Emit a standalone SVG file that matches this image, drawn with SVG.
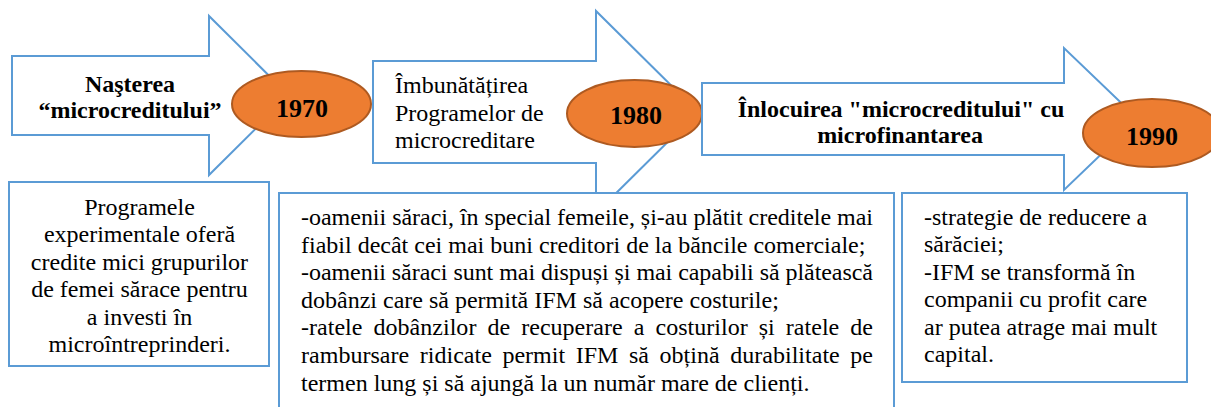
<svg xmlns="http://www.w3.org/2000/svg" width="1211" height="407" viewBox="0 0 1211 407" font-family="'Liberation Serif', 'Times New Roman', Tinos, 'DejaVu Serif', serif">
<style>
.arrow{fill:#ffffff;stroke:#5B9BD5;stroke-width:2;stroke-linejoin:miter}
.box{fill:#ffffff;stroke:#5B9BD5;stroke-width:2}
.year{fill:#ED7D31;stroke:#AE5A21;stroke-width:2}
text{font-family:'Liberation Serif','Times New Roman',Tinos,'DejaVu Serif',serif;font-size:24px;fill:#000000}
.b{font-weight:bold}
.yt{font-weight:bold;font-size:26px;text-anchor:middle}
.c{text-anchor:middle}
</style>
<rect width="1211" height="407" fill="#ffffff"/>
<g id="connectors"/>
<g id="arrow1970">
<path class="arrow" d="M12,56 H209 V16 L289,95.5 L209,175 V135 H12 Z"/>
<text class="b c" x="130" y="92">Naşterea</text>
<text class="b c" x="130" y="118">“microcreditului”</text>
</g>
<g id="year1970">
<ellipse class="year" cx="301.5" cy="104" rx="69.5" ry="33"/>
<text class="yt" x="302" y="117">1970</text>
</g>
<g id="arrow1980">
<path class="arrow" d="M373,61 H596 V11 L698,112 L596,213 V163 H373 Z"/>
<text x="395" y="93">Îmbunătățirea</text>
<text x="395" y="120.5">Programelor de</text>
<text x="395" y="148">microcreditare</text>
</g>
<g id="year1980">
<ellipse class="year" cx="634.5" cy="113.5" rx="67.5" ry="33.5"/>
<text class="yt" x="636" y="124">1980</text>
</g>
<g id="arrow1990">
<path class="arrow" d="M702,83 H1064 V48 L1138,119 L1064,190 V155 H702 Z"/>
<text class="b c" x="901" y="117">Înlocuirea "microcreditului" cu</text>
<text class="b c" x="900" y="143">microfinantarea</text>
</g>
<g id="year1990">
<ellipse class="year" cx="1152" cy="133" rx="69" ry="34"/>
<text class="yt" x="1152" y="145">1990</text>
</g>
<g id="box1970">
<rect class="box" x="9" y="182" width="260" height="184"/>
<text class="c" x="139.5" y="214.5">Programele</text>
<text class="c" x="139.5" y="242">experimentale oferă</text>
<text class="c" x="139.5" y="269.5">credite mici grupurilor</text>
<text class="c" x="139.5" y="297">de femei sărace pentru</text>
<text class="c" x="139.5" y="324.5">a investi în</text>
<text class="c" x="139.5" y="352">microîntreprinderi.</text>
</g>
<g id="box1980">
<rect class="box" x="279" y="193" width="615" height="230"/>
<text x="301" y="225" textLength="572" lengthAdjust="spacing">-oamenii săraci, în special femeile, și-au plătit creditele mai</text>
<text x="301" y="252.6">fiabil decât cei mai buni creditori de la băncile comerciale;</text>
<text x="301" y="280.2" textLength="572" lengthAdjust="spacing">-oamenii săraci sunt mai dispuși și mai capabili să plătească</text>
<text x="301" y="307.8">dobânzi care să permită IFM să acopere costurile;</text>
<text x="301" y="335.4" word-spacing="5" textLength="572" lengthAdjust="spacing">-ratele dobânzilor de recuperare a costurilor și ratele de</text>
<text x="301" y="363" word-spacing="4.5" textLength="572" lengthAdjust="spacing">rambursare ridicate permit IFM să obțină durabilitate pe</text>
<text x="301" y="390.6">termen lung și să ajungă la un număr mare de clienți.</text>
</g>
<g id="box1990">
<rect class="box" x="902" y="193" width="285" height="189"/>
<text x="924" y="225">-strategie de reducere a</text>
<text x="924" y="252.4">sărăciei;</text>
<text x="924" y="279.8">-IFM se transformă în</text>
<text x="924" y="307.2">companii cu profit care</text>
<text x="924" y="334.6">ar putea atrage mai mult</text>
<text x="924" y="362">capital.</text>
</g>
</svg>
